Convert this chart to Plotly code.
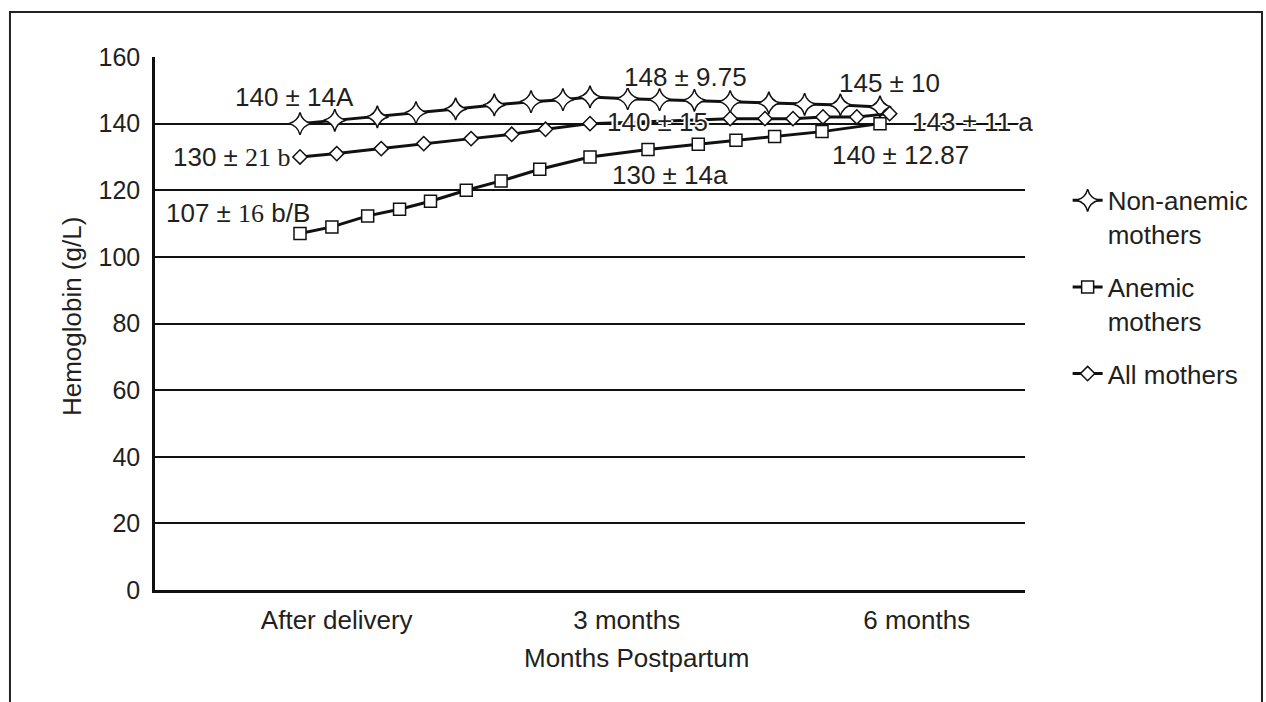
import plotly.graph_objects as go

# Hemoglobin readings (g/L) plotted along months postpartum
non_anemic_months = [0, 0.36, 0.8, 1.2, 1.61, 2.01, 2.39, 2.72, 3, 3.39, 3.72, 4.08, 4.45, 4.85, 5.22, 5.59, 6]
non_anemic_hb = [140, 141, 142, 143.3, 144.4, 145.6, 146.6, 147.2, 148, 147.5, 147.2, 147, 146.6, 146.2, 145.8, 145.6, 145]

anemic_months = [0, 0.33, 0.7, 1.03, 1.35, 1.72, 2.08, 2.48, 3, 3.6, 4.12, 4.51, 4.91, 5.4, 6]
anemic_hb = [107, 109, 112.3, 114.3, 116.7, 120, 122.8, 126.3, 130, 132.2, 133.8, 135, 136.1, 137.6, 140]

all_months = [0, 0.38, 0.84, 1.28, 1.77, 2.19, 2.54, 3, 4.45, 4.81, 5.1, 5.41, 5.76, 6.1]
all_hb = [130, 131, 132.5, 134, 135.5, 136.8, 138.3, 140, 141.5, 141.5, 141.5, 142, 142, 143]

tick_labels = ["After delivery", "3 months", "6 months"]
y_ticks = [0, 20, 40, 60, 80, 100, 120, 140, 160]

SANS = "Liberation Sans, Arial, sans-serif"
SERIF = "Liberation Serif"
INK = "#231f20"
HALO = "2px 0 0 white, -2px 0 0 white, 0 2px 0 white, 0 -2px 0 white"


def serif(s):
    return f"<span style='font-family:{SERIF}'>{s}</span>"


fig = go.Figure()

fig.add_trace(go.Scatter(
    x=non_anemic_months, y=non_anemic_hb, mode="lines+markers",
    name="Non-anemic<br>mothers", legendrank=1, legendgroup="na",
    line=dict(color="#111111", width=3),
    marker=dict(symbol="star-diamond", size=16, color="white",
                line=dict(color="#111111", width=1.5)),
))
fig.add_trace(go.Scatter(
    x=all_months, y=all_hb, mode="lines+markers",
    name="All mothers", legendrank=3, legendgroup="all",
    line=dict(color="#111111", width=3),
    marker=dict(symbol="diamond", size=11, color="white",
                line=dict(color="#111111", width=1.5)),
))
fig.add_trace(go.Scatter(
    x=anemic_months, y=anemic_hb, mode="lines+markers",
    name="Anemic<br>mothers", legendrank=2, legendgroup="an",
    line=dict(color="#111111", width=3),
    marker=dict(symbol="square", size=12, color="white",
                line=dict(color="#111111", width=1.5)),
))

# value labels (mean ± SD) beside the curves
labels = [
    ("140 ± 14A", -0.06, 147.9),
    ("130 ± " + serif("21 b"), -0.70, 130.0),
    ("107 ± " + serif("16") + " b/B", -0.64, 113.1),
    ("148 ± 9.75", 3.99, 153.9),
    ("145 ± 10", 6.10, 152.2),
    ("140 ± 15", 3.70, 140.4),
    ("143 ± 11 a", 6.96, 140.4),
    ("140 ± 12.87", 6.21, 130.5),
    ("130 ± 14a", 3.83, 124.5),
]
for text, lx, ly in labels:
    fig.add_annotation(x=lx, y=ly, xref="x", yref="y", text=text, showarrow=False,
                       xanchor="center", yanchor="middle",
                       font=dict(family=SANS, size=26, color=INK, shadow=HALO))

fig.add_annotation(text="Hemoglobin (g/L)", textangle=-90, xref="paper", yref="paper",
                   x=-0.0954, y=0.512, xanchor="center", yanchor="middle", showarrow=False,
                   font=dict(family=SANS, size=26, color=INK))
fig.add_annotation(text="Months Postpartum", xref="paper", yref="paper",
                   x=0.554, y=-0.1276, xanchor="center", yanchor="middle", showarrow=False,
                   font=dict(family=SANS, size=26, color=INK))

# outer frame
fig.add_shape(type="rect", xref="paper", yref="paper",
              x0=-0.1667, x1=1.2724, y0=-0.3, y1=1.0844,
              line=dict(color="#222222", width=2), layer="below")

fig.update_layout(
    width=1266, height=702,
    margin=dict(l=155, r=241, t=57, b=112),
    paper_bgcolor="white", plot_bgcolor="white",
    font=dict(family=SANS, size=26, color=INK),
    showlegend=True,
    legend=dict(x=1.049, y=0.775, xanchor="left", yanchor="top",
                font=dict(family=SANS, size=26, color=INK),
                valign="top", bgcolor="rgba(0,0,0,0)",
                traceorder="grouped", tracegroupgap=16),
    xaxis=dict(range=[-1.5, 7.5], tickvals=[0.38, 3.38, 6.38], ticktext=tick_labels,
               showgrid=False, zeroline=False, showline=True, linecolor="#111111",
               linewidth=3, ticks="", ticklabelstandoff=5,
               tickfont=dict(family=SANS, size=26, color=INK)),
    yaxis=dict(range=[0, 160], tickvals=y_ticks, showgrid=True, gridcolor="#111111",
               gridwidth=2, zeroline=False, showline=True, linecolor="#111111",
               linewidth=2.5, ticks="", ticklabelstandoff=7,
               tickfont=dict(family=SANS, size=25, color=INK)),
)

fig.write_html("out.html")
